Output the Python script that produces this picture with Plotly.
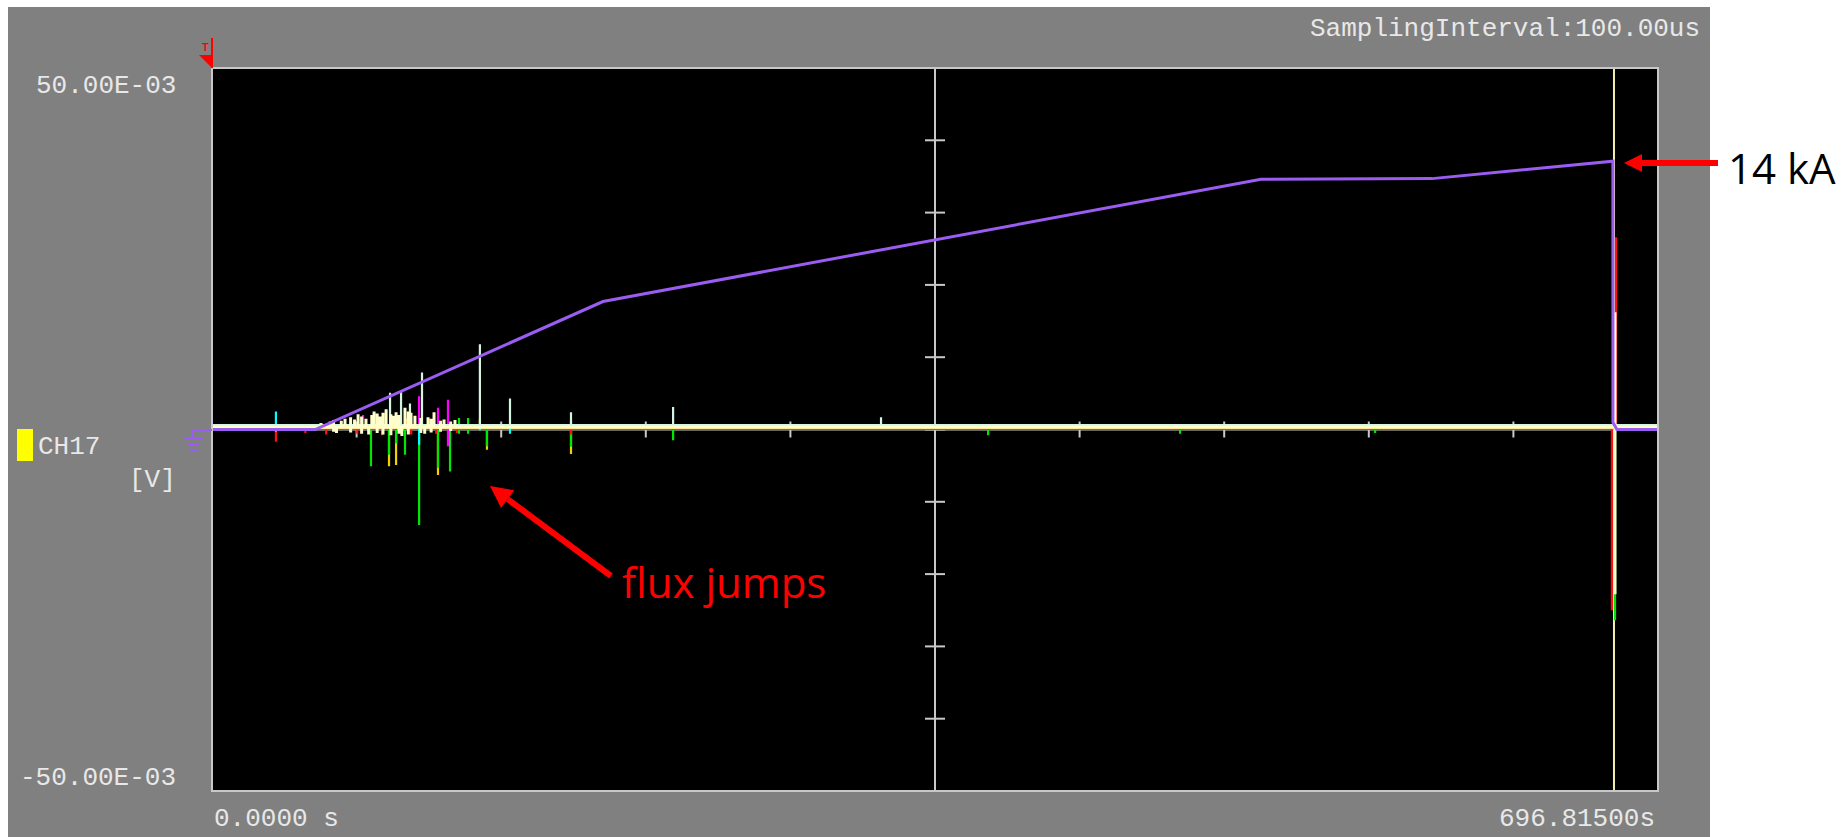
import plotly.graph_objects as go

# ---------------- record settings ----------------
T_END = 696.815      # s, record length shown on screen
V_FULL = 0.05        # V, +/- full scale
CURSOR_T = 675.6     # s, cursor position
N_DIV_X = 10
N_DIV_Y = 10

# ---------------- current-monitor channel (ramp) ----------------
RAMP_T = [0.0, 49.7, 188.4, 505.5, 587.9, 675.1, 675.1, 677.0, 696.815]
RAMP_V = [0.0, 0.0, 0.0177, 0.0346, 0.0347, 0.0371, 0.0010, 0.0, 0.0]

# ---------------- voltage-tap channels: spike times, peak highs / lows ----------------
CREAM_BASE = 0.0003
CREAM_T = [52.5, 56.9, 58.6, 60.0, 62.3, 64.1, 66.8, 68.7, 70.4, 72.1, 74.2, 75.5, 77.0,
           78.1, 79.6, 81.0, 82.4, 83.9, 86.2, 87.5, 88.7, 90.1, 91.5, 93.0, 94.6, 95.9,
           97.8, 100.6, 102.5, 104.1, 105.6, 107.0, 110.1, 111.8, 115.0, 117.1, 676.1]
CREAM_HI = [0.0006, 0.0008, 0.0010, 0.0, 0.0009, 0.0012, 0.0014, 0.0011, 0.0018, 0.0015,
            0.0012, 0.0, 0.0017, 0.0022, 0.0019, 0.0015, 0.0020, 0.0025, 0.0018, 0.0016,
            0.0021, 0.0017, 0.0, 0.0027, 0.0022, 0.0020, 0.0016, 0.0013, 0.0, 0.0014,
            0.0012, 0.0021, 0.0009, 0.0011, 0.0008, 0.0010, 0.0159]
CREAM_LO = [0.0, 0.0, -0.0006, -0.0008, 0.0, 0.0, -0.0007, 0.0, 0.0, -0.0009, 0.0,
            -0.0010, 0.0, 0.0, -0.0008, 0.0, -0.0010, 0.0, -0.0011, 0.0, 0.0, -0.0009,
            -0.0012, 0.0, -0.0010, 0.0, 0.0, -0.0008, -0.0009, 0.0, -0.0007, 0.0, -0.0006,
            0.0, -0.0005, 0.0, -0.0231]

MINT_BASE = 0.0006
MINT_T = [85.8, 91.1, 95.4, 101.2, 129.1, 143.6, 173.0, 222.2, 322.4]
MINT_HI = [0.0045, 0.0048, 0.0030, 0.0073, 0.0112, 0.0037, 0.0018, 0.0025, 0.0011]
MINT_LO = [0.0, 0.0, 0.0, 0.0, 0.0, 0.0, 0.0, 0.0, 0.0]

GREEN_BASE = 0.0002
GREEN_T = [76.6, 85.3, 88.7, 93.0, 99.8, 108.9, 114.7, 119.0, 123.4, 132.5, 173.0,
           222.2, 374.0, 466.5, 560.5, 676.1]
GREEN_HI = [0.0, 0.0, 0.0, 0.0, 0.0, 0.0, 0.0, 0.0014, 0.0014, 0.0, 0.0,
            0.0, 0.0, 0.0, 0.0, 0.0]
GREEN_LO = [-0.0053, -0.0037, -0.0021, -0.0037, -0.0134, -0.0055, -0.0060, -0.0008, -0.0008,
            -0.0025, -0.0026, -0.0017, -0.0010, -0.0008, -0.0007, -0.0266]

YELLOW_BASE = 0.0002
YELLOW_T = [85.3, 88.7, 108.9, 132.5, 173.0]
YELLOW_HI = [0.0, 0.0, 0.0, 0.0, 0.0]
YELLOW_LO = [-0.0053, -0.0051, -0.0065, -0.0030, -0.0036]

MAGENTA_BASE = 0.0002
MAGENTA_T = [72.8, 99.8, 108.9, 113.7]
MAGENTA_HI = [0.0018, 0.0044, 0.0028, 0.0039]
MAGENTA_LO = [0.0, 0.0, 0.0, -0.0025]

CYAN_BASE = 0.0004
CYAN_T = [30.8, 99.8, 129.1, 143.6, 173.0]
CYAN_HI = [0.0021, 0.0, 0.0, 0.0, 0.0008]
CYAN_LO = [-0.0007, -0.0025, -0.0005, -0.0010, 0.0]

RED_BASE = 0.0001
RED_T = [30.8, 45.0, 55.0, 70.0, 82.0, 96.0, 108.0, 118.0, 173.0, 674.6, 676.6]
RED_HI = [0.0, 0.0, 0.0, 0.0, 0.0, 0.0, 0.0, 0.0, 0.0, 0.0, 0.0265]
RED_LO = [-0.0018, -0.0006, -0.0008, -0.0007, -0.0009, -0.0008, -0.0007, -0.0006,
          -0.0008, -0.0251, 0.0]

ORANGE_BASE = 0.0002
ORANGE_T = [70.4, 94.0, 129.1]
ORANGE_HI = [0.0013, 0.0013, 0.0013]
ORANGE_LO = [0.0, 0.0, 0.0]

# ---------------- screen texts ----------------
Y_TOP_LABEL = "50.00E-03"
Y_BOTTOM_LABEL = "-50.00E-03"
X_LEFT_LABEL = "0.0000 s"
X_RIGHT_LABEL = "696.81500s"
INTERVAL_LABEL = "SamplingInterval:100.00us"
CHANNEL_LABEL = "CH17"
UNIT_LABEL = "[V]"

# ---------------- page geometry (pixels) ----------------
W, H = 1843, 837
PL, PR, PT, PB = 212, 1658, 68, 791          # plot frame
PANEL = (8, 7, 1710, 837)                     # grey instrument panel

GREY = "#808080"
FRAME = "#c8c8c8"
SCREEN_TXT = "#e8e8e8"
MONO = "Liberation Mono, DejaVu Sans Mono, monospace"
SANS = "Open Sans, Lato, Liberation Sans, sans-serif"
PURPLE = "#9b5cf2"


def px(x):
    return (x - PL) / (PR - PL)


def py(y):
    return (PB - y) / (PB - PT)


def spike_path(t, hi, lo, base):
    xs, ys = [0.0], [base]
    for ti, h, l in sorted(zip(t, hi, lo)):
        xs += [ti, ti, ti, ti]
        ys += [base, base + h, base + l, base]
    xs.append(T_END)
    ys.append(base)
    return xs, ys


fig = go.Figure()

channels = [
    (YELLOW_T, YELLOW_HI, YELLOW_LO, YELLOW_BASE, "#f0d000", 2.2),
    (GREEN_T, GREEN_HI, GREEN_LO, GREEN_BASE, "#00e600", 2.2),
    (RED_T, RED_HI, RED_LO, RED_BASE, "#ff1010", 2.2),
    (MAGENTA_T, MAGENTA_HI, MAGENTA_LO, MAGENTA_BASE, "#ff00ff", 2.2),
    (ORANGE_T, ORANGE_HI, ORANGE_LO, ORANGE_BASE, "#ff9a00", 2.2),
    (CYAN_T, CYAN_HI, CYAN_LO, CYAN_BASE, "#00ffff", 2.2),
    (MINT_T, MINT_HI, MINT_LO, MINT_BASE, "#d4f4e2", 2.2),
    (CREAM_T, CREAM_HI, CREAM_LO, CREAM_BASE, "#ffffcc", 3.0),
]
for t, hi, lo, base, col, lw in channels:
    xs, ys = spike_path(t, hi, lo, base)
    fig.add_trace(go.Scatter(x=xs, y=ys, mode="lines",
                             line=dict(color=col, width=lw),
                             hoverinfo="skip", showlegend=False))

fig.add_trace(go.Scatter(x=RAMP_T, y=RAMP_V, mode="lines",
                         line=dict(color=PURPLE, width=3),
                         hoverinfo="skip", showlegend=False))

shapes = []

# graticule: centre cross with division ticks
t_mid = T_END / 2
shapes.append(dict(type="line", xref="x", yref="paper", x0=t_mid, x1=t_mid, y0=0, y1=1,
                   line=dict(color=FRAME, width=2), layer="below"))
shapes.append(dict(type="line", xref="paper", yref="y", x0=0, x1=1, y0=0, y1=0,
                   line=dict(color=FRAME, width=2), layer="below"))
for k in range(1, N_DIV_Y):
    v = -V_FULL + k * 2 * V_FULL / N_DIV_Y
    shapes.append(dict(type="line", xref="x", yref="y", xsizemode="pixel", xanchor=t_mid,
                       x0=-10, x1=10, y0=v, y1=v,
                       line=dict(color=FRAME, width=2), layer="below"))
for k in range(1, N_DIV_X):
    tx = k * T_END / N_DIV_X
    shapes.append(dict(type="line", xref="x", yref="y", ysizemode="pixel", yanchor=0,
                       x0=tx, x1=tx, y0=-8, y1=8,
                       line=dict(color=FRAME, width=2), layer="below"))

# cursor
shapes.append(dict(type="line", xref="x", yref="paper", x0=CURSOR_T, x1=CURSOR_T, y0=0, y1=1,
                   line=dict(color="#f2f0a8", width=2), layer="below"))

# white page outside the instrument panel
shapes.append(dict(type="rect", xref="paper", yref="paper", x0=px(0), x1=px(PANEL[0]),
                   y0=py(H), y1=py(0), fillcolor="white", line_width=0, layer="above"))
shapes.append(dict(type="rect", xref="paper", yref="paper", x0=px(0), x1=px(W),
                   y0=py(PANEL[1]), y1=py(0), fillcolor="white", line_width=0, layer="above"))
shapes.append(dict(type="rect", xref="paper", yref="paper", x0=px(PANEL[2]), x1=px(W),
                   y0=py(H), y1=py(0), fillcolor="white", line_width=0, layer="above"))

# plot frame
shapes.append(dict(type="rect", xref="paper", yref="paper", x0=0, x1=1, y0=0, y1=1,
                   line=dict(color=FRAME, width=2), layer="above"))

# channel colour chip
shapes.append(dict(type="rect", xref="paper", yref="paper", x0=px(17), x1=px(33),
                   y0=py(461), y1=py(429), fillcolor="#ffff00", line_width=0, layer="above"))

# ground symbol of the purple channel
gnd = [((193, 430), (212, 430)), ((193, 430), (193, 439)), ((183, 439), (204, 439)),
       ((187, 445), (200, 445)), ((190, 450), (197, 450))]
for (xa, ya), (xb, yb) in gnd:
    shapes.append(dict(type="line", xref="paper", yref="paper",
                       x0=px(xa), y0=py(ya), x1=px(xb), y1=py(yb),
                       line=dict(color=PURPLE, width=2), layer="above"))

# trigger marker
shapes.append(dict(type="line", xref="paper", yref="paper", x0=px(212), x1=px(212),
                   y0=py(38), y1=py(68), line=dict(color="#ff0000", width=2), layer="above"))
shapes.append(dict(type="path", xref="paper", yref="paper",
                   path=f"M {px(199)},{py(55)} L {px(213)},{py(55)} L {px(212)},{py(68)} Z",
                   fillcolor="#ff0000", line_width=0, layer="above"))


def arrow(tip, tail, head_len, head_half, shaft_w):
    (x1, y1), (x0, y0) = tip, tail
    dx, dy = x0 - x1, y0 - y1
    n = (dx * dx + dy * dy) ** 0.5
    ux, uy = dx / n, dy / n
    bx, by = x1 + ux * head_len, y1 + uy * head_len
    nx, ny = -uy, ux
    out = [dict(type="line", xref="paper", yref="paper",
                x0=px(bx), y0=py(by), x1=px(x0), y1=py(y0),
                line=dict(color="#ff0000", width=shaft_w), layer="above")]
    pts = [(x1, y1), (bx + nx * head_half, by + ny * head_half),
           (bx - nx * head_half, by - ny * head_half)]
    path = "M " + " L ".join(f"{px(a)},{py(b)}" for a, b in pts) + " Z"
    out.append(dict(type="path", xref="paper", yref="paper", path=path,
                    fillcolor="#ff0000", line_width=0, layer="above"))
    return out


shapes += arrow((1624, 163), (1718, 163), 18, 9, 6)
shapes += arrow((490, 486), (611, 576), 22, 11, 6)

annotations = []


def label(text, x, y, xanchor, size=26, color=SCREEN_TXT, family=MONO):
    annotations.append(dict(text=text, xref="paper", yref="paper", x=px(x), y=py(y),
                            xanchor=xanchor, yanchor="middle", showarrow=False,
                            font=dict(family=family, size=size, color=color)))


label(INTERVAL_LABEL, 1702, 29, "right")
label(Y_TOP_LABEL, 178, 86, "right")
label(Y_BOTTOM_LABEL, 178, 778, "right")
label(CHANNEL_LABEL, 36, 447, "left")
label(UNIT_LABEL, 178, 480, "right")
label(X_LEFT_LABEL, 212, 819, "left")
label(X_RIGHT_LABEL, 1657, 819, "right")
label("<b>T</b>", 205, 47, "center", size=11, color="#ff0000", family="Liberation Sans, sans-serif")
label("14 kA", 1726, 168, "left", size=42, color="#000000", family=SANS)
label("flux jumps", 620, 582, "left", size=42, color="#ff0000", family=SANS)

fig.update_layout(
    width=W, height=H, autosize=False,
    margin=dict(l=PL, r=W - PR, t=PT, b=H - PB, pad=0),
    paper_bgcolor=GREY, plot_bgcolor="#000000",
    xaxis=dict(range=[0, T_END], visible=False, fixedrange=True),
    yaxis=dict(range=[-V_FULL, V_FULL], visible=False, fixedrange=True),
    shapes=shapes, annotations=annotations, showlegend=False,
)

fig.write_html("out.html", config={"displayModeBar": False})
